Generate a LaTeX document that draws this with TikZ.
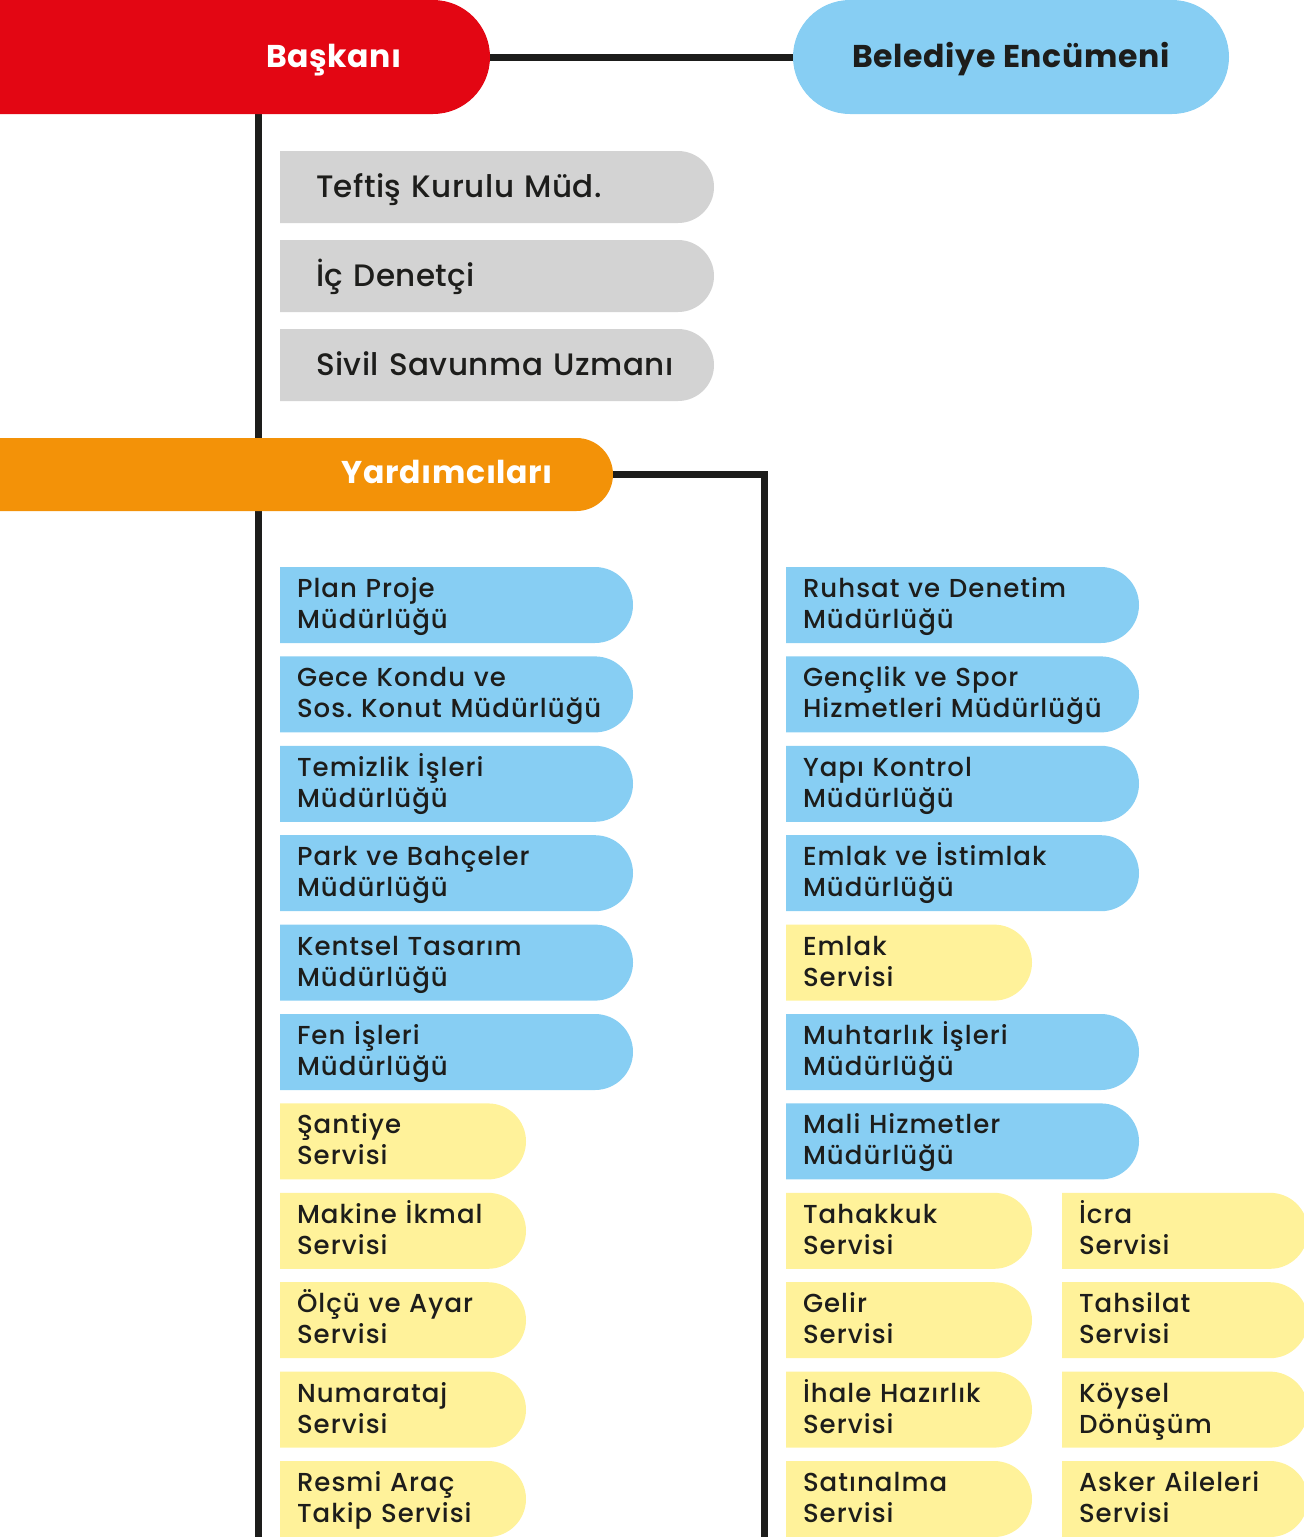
\documentclass[tikz,border=0pt]{standalone}
\usepackage{fontspec}
\setmainfont{Poppins}
\newfontfamily\birimfont{Poppins Medium}[LetterSpace=4]
\newfontfamily\denetfont{Poppins Medium}[LetterSpace=1.5]
\newfontfamily\basfont{Poppins Bold}[LetterSpace=2]
\usetikzlibrary{positioning,backgrounds}
\frenchspacing

\definecolor{bred}{HTML}{E30613}
\definecolor{bsky}{HTML}{87CEF3}
\definecolor{bgrey}{HTML}{D3D3D3}
\definecolor{borange}{HTML}{F39208}
\definecolor{byellow}{HTML}{FFF29A}
\definecolor{bink}{HTML}{1D1D1B}

% fill with a round right end, drawn behind a node
\newcommand{\tabfill}[4]{%
  \fill[#1] (#2.north west) -- ++(#3-#4,0)
    arc[start angle=90, end angle=-90, radius=#4pt] -- (#2.south west) -- cycle}

\begin{document}
\begin{tikzpicture}[
    x=1pt, y=-1pt,
    node distance=13.4pt,
    satir/.style 2 args={execute at begin node={\rule{0pt}{#1}}, execute at end node={\rule[-#2]{0pt}{#2}}},
    baslik/.style={rectangle, anchor=north west, inner ysep=0pt, outer sep=0pt, font=\basfont\fontsize{31.5}{36}\selectfont},
    denet/.style={rectangle, anchor=north west, minimum height=72pt, inner xsep=36pt, inner ysep=0pt, outer sep=0pt, text width=420pt, align=left, text=bink, font=\denetfont\fontsize{31}{37}\selectfont, satir={46pt}{26pt}},
    birim/.style={rectangle, anchor=north west, minimum height=76pt, inner xsep=17pt, inner ysep=0pt, outer sep=0pt, text width=330pt, align=left, text=bink, font=\birimfont\fontsize{26}{31}\selectfont, satir={30.5pt}{14.5pt}},
    hat/.style={line width=7pt, draw=bink}
]
\useasboundingbox (0,0) rectangle (1304,1537);

% top
\node[baslik, minimum width=490pt, minimum height=114pt, inner xsep=88pt, text width=314pt, align=right, text=white, satir={67pt}{47pt}] (bask) at (0,0) {Başkanı};
\node[baslik, minimum width=436pt, minimum height=114pt, rounded corners=57pt, fill=bsky, text=bink, satir={67pt}{47pt}] (encumen) at (793,0) {Belediye Encümeni};

\node[denet] (teftis) at (280,151) {Teftiş Kurulu Müd.};
\node[denet, below=17pt of teftis] (icden) {İç Denetçi};
\node[denet, below=17pt of icden] (sivil) {Sivil Savunma Uzmanı};

\node[baslik, minimum width=613pt, minimum height=73pt, inner xsep=60pt, text width=493pt, align=right, text=white, satir={45.5pt}{27.5pt}] (yard) at (0,438) {Yardımcıları};

% left column
\node[birim] (plan) at (280,567) {Plan Proje\\Müdürlüğü};
\node[birim, below=of plan] (gece) {Gece Kondu ve\\Sos. Konut Müdürlüğü};
\node[birim, below=of gece] (temiz) {Temizlik İşleri\\Müdürlüğü};
\node[birim, below=of temiz] (park) {Park ve Bahçeler\\Müdürlüğü};
\node[birim, below=of park] (kent) {Kentsel Tasarım\\Müdürlüğü};
\node[birim, below=of kent] (fen) {Fen İşleri\\Müdürlüğü};
\node[birim, below=of fen] (santiye) {Şantiye\\Servisi};
\node[birim, below=of santiye] (makine) {Makine İkmal\\Servisi};
\node[birim, below=of makine] (olcu) {Ölçü ve Ayar\\Servisi};
\node[birim, below=of olcu] (numara) {Numarataj\\Servisi};
\node[birim, below=of numara] (resmi) {Resmi Araç\\Takip Servisi};

% right column
\node[birim] (ruhsat) at (786,567) {Ruhsat ve Denetim\\Müdürlüğü};
\node[birim, below=of ruhsat] (genclik) {Gençlik ve Spor\\Hizmetleri Müdürlüğü};
\node[birim, below=of genclik] (yapi) {Yapı Kontrol\\Müdürlüğü};
\node[birim, below=of yapi] (emlak) {Emlak ve İstimlak\\Müdürlüğü};
\node[birim, below=of emlak] (emlaks) {Emlak\\Servisi};
\node[birim, below=of emlaks] (muhtar) {Muhtarlık İşleri\\Müdürlüğü};
\node[birim, below=of muhtar] (mali) {Mali Hizmetler\\Müdürlüğü};
\node[birim, below=of mali] (tahakkuk) {Tahakkuk\\Servisi};
\node[birim, below=of tahakkuk] (gelir) {Gelir\\Servisi};
\node[birim, below=of gelir] (ihale) {İhale Hazırlık\\Servisi};
\node[birim, below=of ihale] (satin) {Satınalma\\Servisi};

\node[birim] (icra) at (1062,1192.8) {İcra\\Servisi};
\node[birim, below=of icra] (tahsilat) {Tahsilat\\Servisi};
\node[birim, below=of tahsilat] (koysel) {Köysel\\Dönüşüm};
\node[birim, below=of koysel] (asker) {Asker Aileleri\\Servisi};

\coordinate (endl) at (258.5,1540);
\coordinate (endr) at (764,1540);

\begin{scope}[on background layer]
  \draw[hat] (bask.east) -- (encumen.west);
  \draw[hat] (bask.south -| endl) -- (endl);
  \draw[hat] (yard.east) -| (endr);
  \tabfill{bred}{bask}{490}{57};
  \tabfill{borange}{yard}{613}{36.5};
  \foreach \u in {teftis,icden,sivil} {\tabfill{bgrey}{\u}{434}{36};}
  \foreach \u in {plan,gece,temiz,park,kent,fen,ruhsat,genclik,yapi,emlak,muhtar,mali}
    {\tabfill{bsky}{\u}{353}{38};}
  \foreach \u in {santiye,makine,olcu,numara,resmi,emlaks,tahakkuk,gelir,ihale,satin,icra,tahsilat,koysel,asker}
    {\tabfill{byellow}{\u}{246}{38};}
\end{scope}
\end{tikzpicture}
\end{document}
